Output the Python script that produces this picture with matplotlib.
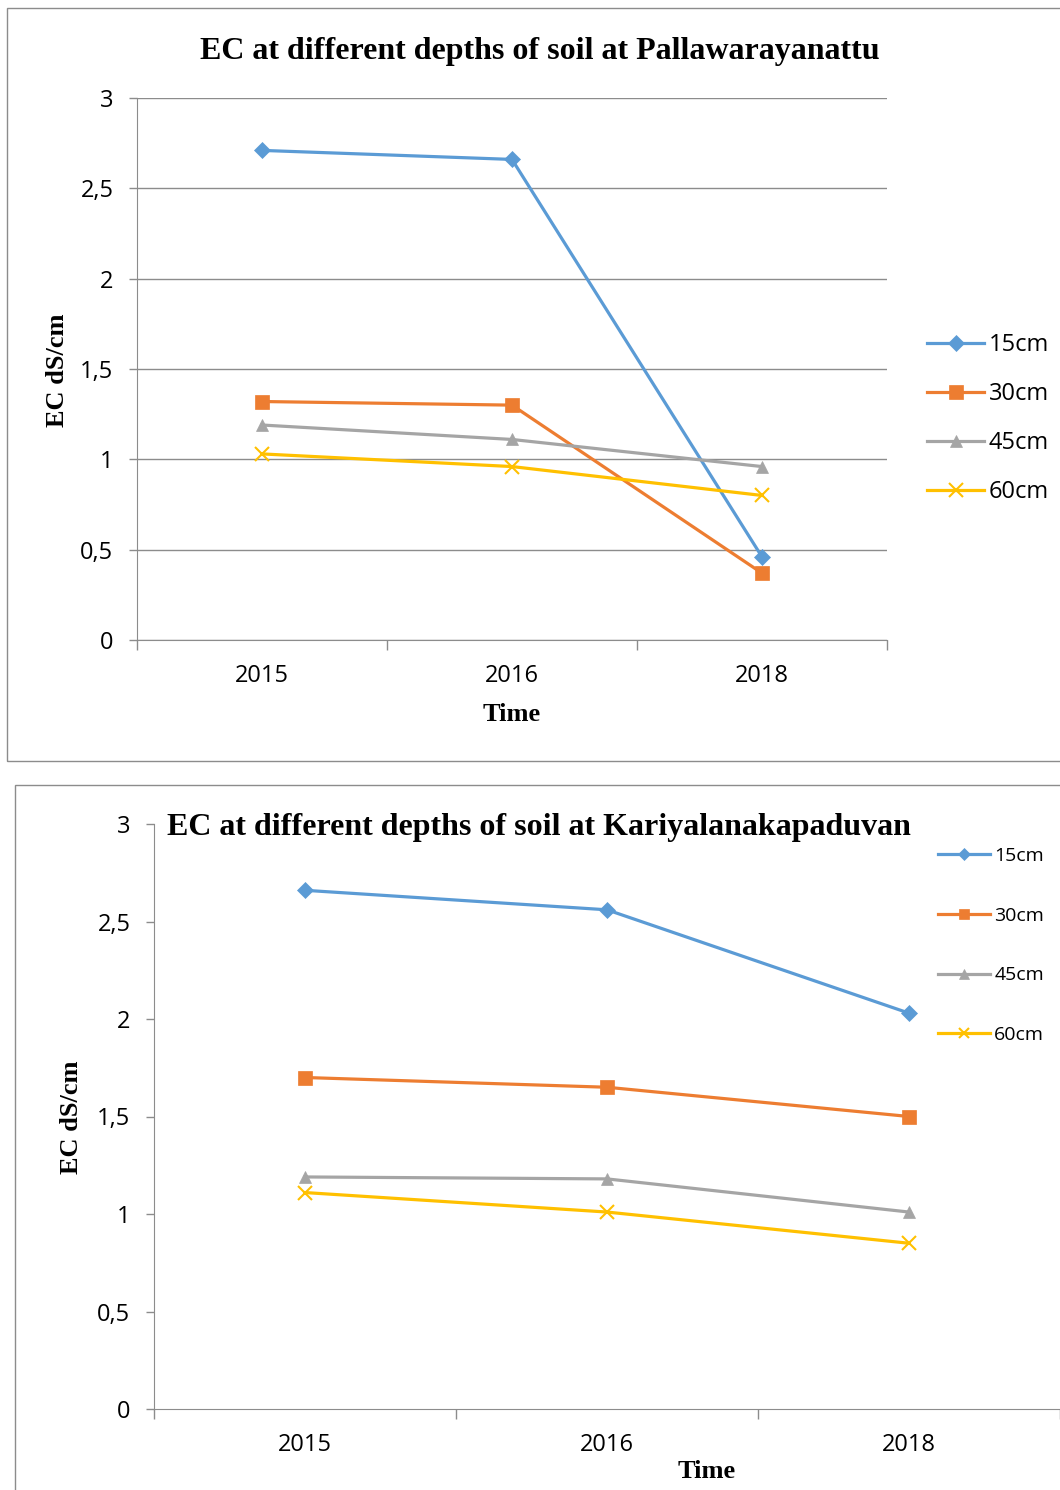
import matplotlib
matplotlib.use("Agg")
import matplotlib.pyplot as plt
from matplotlib.patches import Rectangle

# ------------------------------------------------------------
# DATA
# ------------------------------------------------------------

years = ["2015", "2016", "2018"]
depths = ["15cm", "30cm", "45cm", "60cm"]

pall_15 = [2.71, 2.66, 0.46]
pall_30 = [1.32, 1.30, 0.37]
pall_45 = [1.19, 1.11, 0.96]
pall_60 = [1.03, 0.96, 0.80]

kari_15 = [2.66, 2.56, 2.03]
kari_30 = [1.70, 1.65, 1.50]
kari_45 = [1.19, 1.18, 1.01]
kari_60 = [1.11, 1.01, 0.85]

y_ticks = [0, 0.5, 1, 1.5, 2, 2.5, 3]
y_tick_labels = ["0", "0,5", "1", "1,5", "2", "2,5", "3"]

colors = ["#5B9BD5", "#ED7D31", "#A5A5A5", "#FFC000"]
markers = ["D", "s", "^", "x"]
msizes = [8, 10, 9, 10]

W, H = 1060, 1490
SERIF = "Liberation Serif"
SANS = "Open Sans"
GRID = "#8c8c8c"


def fx(px):
    return px / W


def fy(py):
    return 1 - py / H


def draw_panel(ax, series, grid, tick_fs):
    x = range(len(years))
    for vals, c, m, ms, lab in zip(series, colors, markers, msizes, depths):
        ax.plot(x, vals, color=c, linewidth=2.3, marker=m, markersize=ms,
                markeredgewidth=1.5 if m == "x" else 0.5, markeredgecolor=c,
                label=lab)
    ax.set_xlim(-0.5, len(years) - 0.5)
    ax.set_ylim(0, 3)
    ax.set_yticks(y_ticks)
    ax.set_yticklabels(y_tick_labels, fontfamily=SANS, fontsize=tick_fs)
    ax.set_xticks([-0.5, 0.5, 1.5, 2.5])
    ax.set_xticklabels([])
    ax.set_xticks(list(x), minor=True)
    ax.set_xticklabels(years, minor=True, fontfamily=SANS, fontsize=tick_fs)
    ax.tick_params(axis="x", which="major", length=7, color=GRID, width=1)
    ax.tick_params(axis="x", which="minor", length=0, pad=17)
    ax.tick_params(axis="y", length=6, color=GRID, width=1, pad=11)
    for s in ["top", "right"]:
        ax.spines[s].set_visible(False)
    ax.spines["left"].set_color(GRID)
    ax.spines["bottom"].set_color(GRID)
    if grid:
        ax.yaxis.grid(True, color=GRID, linewidth=1)
        ax.set_axisbelow(True)


fig = plt.figure(figsize=(W / 100, H / 100), dpi=100)

# panel frames
fig.patches.append(Rectangle((fx(7), fy(761)), 1.2, fy(8) - fy(761),
                             transform=fig.transFigure, fill=False,
                             edgecolor="#8c8c8c", linewidth=1))
fig.patches.append(Rectangle((fx(15), fy(1520)), 1.2, fy(785) - fy(1520),
                             transform=fig.transFigure, fill=False,
                             edgecolor="#8c8c8c", linewidth=1))

# ---- top panel ----
ax1 = fig.add_axes([fx(137), fy(640), fx(750), fy(98) - fy(640)])
draw_panel(ax1, [pall_15, pall_30, pall_45, pall_60], True, 17)
fig.text(fx(540), fy(51), "EC at different depths of soil at Pallawarayanattu",
         ha="center", va="center", fontfamily=SERIF, fontweight="bold", fontsize=23)
fig.text(fx(57), fy(370), "EC dS/cm", rotation=90, ha="center", va="center",
         fontfamily=SERIF, fontweight="bold", fontsize=19)
fig.text(fx(512), fy(715), "Time", ha="center", va="center",
         fontfamily=SERIF, fontweight="bold", fontsize=19)
leg1 = fig.legend(*ax1.get_legend_handles_labels(), loc="upper left",
                  bbox_to_anchor=(fx(918), fy(324)), frameon=False,
                  prop={"family": SANS, "size": 17}, handlelength=2.4,
                  labelspacing=1.05, handletextpad=0.2, borderaxespad=0)

# ---- bottom panel ----
ax2 = fig.add_axes([fx(154), fy(1409), fx(906), fy(824) - fy(1409)])
draw_panel(ax2, [kari_15, kari_30, kari_45, kari_60], False, 17)
fig.text(fx(539), fy(827), "EC at different depths of soil at Kariyalanakapaduvan",
         ha="center", va="center", fontfamily=SERIF, fontweight="bold", fontsize=23)
fig.text(fx(72), fy(1117), "EC dS/cm", rotation=90, ha="center", va="center",
         fontfamily=SERIF, fontweight="bold", fontsize=19)
fig.text(fx(707), fy(1472), "Time", ha="center", va="center",
         fontfamily=SERIF, fontweight="bold", fontsize=19)
leg2 = fig.legend(*ax2.get_legend_handles_labels(), loc="upper left",
                  bbox_to_anchor=(fx(930), fy(839)), frameon=False,
                  prop={"family": SANS, "size": 14}, handlelength=2.7,
                  labelspacing=2.15, handletextpad=0.2, borderaxespad=0,
                  markerscale=0.75)

fig.savefig("out.png", dpi=100)
